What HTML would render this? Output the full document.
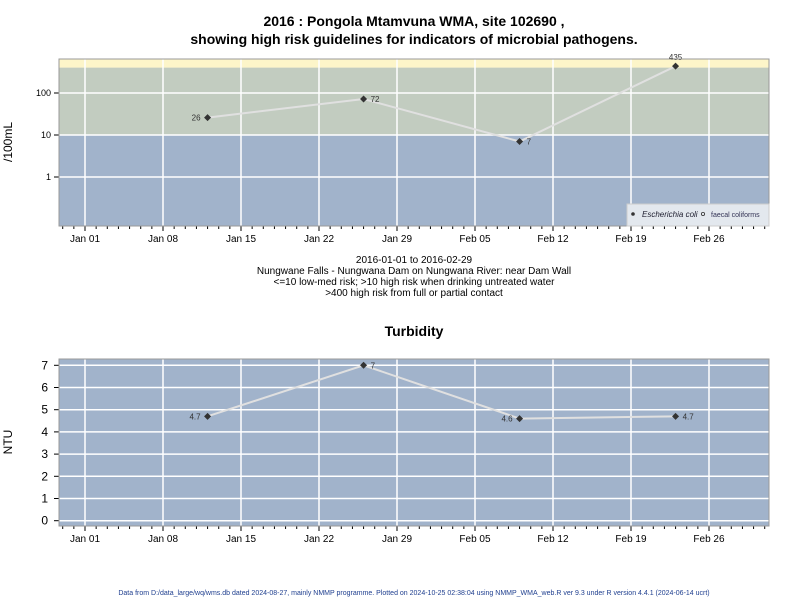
<!DOCTYPE html>
<html><head><meta charset="utf-8"><style>
body{margin:0;background:#fff;font-family:"Liberation Sans",sans-serif}
svg text{font-family:"Liberation Sans",sans-serif}
</style></head><body>
<svg id="c" width="800" height="600" xmlns="http://www.w3.org/2000/svg">
<text x="414" y="26" font-size="14" font-weight="bold" text-anchor="middle">2016 : Pongola Mtamvuna WMA, site 102690 ,</text>
<text x="414" y="44" font-size="14" font-weight="bold" text-anchor="middle">showing high risk guidelines for indicators of microbial pathogens.</text>
<text x="414" y="263" font-size="10" text-anchor="middle">2016-01-01 to 2016-02-29</text>
<text x="414" y="274" font-size="10" text-anchor="middle">Nungwane Falls - Nungwana Dam on Nungwana River: near Dam Wall</text>
<text x="414" y="285" font-size="10" text-anchor="middle">&lt;=10 low-med risk; &gt;10 high risk when drinking untreated water</text>
<text x="414" y="296" font-size="10" text-anchor="middle">&gt;400 high risk from full or partial contact</text>
<text x="414" y="336" font-size="14" font-weight="bold" text-anchor="middle">Turbidity</text>
<text x="12" y="142" font-size="12" text-anchor="middle" transform="rotate(-90 12 142)">/100mL</text>
<text x="12" y="442" font-size="12" text-anchor="middle" transform="rotate(-90 12 442)">NTU</text>
<text x="414" y="595" font-size="7" fill="#1f3f8f" text-anchor="middle">Data from D:/data_large/wq/wms.db dated 2024-08-27, mainly NMMP programme. Plotted on 2024-10-25 02:38:04 using NMMP_WMA_web.R ver 9.3 under R version 4.4.1 (2024-06-14 ucrt)</text>
</svg>
<script>
const dates=[11,25,39,53]; // days since Jan 01
const ecoli=[26,72,7,435];
const ecoliLabels=["26","72","7","435"];
const turb=[4.7,7,4.6,4.7];
const turbLabels=["4.7","7","4.6","4.7"];
const xTickDays=[0,7,14,21,28,35,42,49,56];
const xTickLabels=["Jan 01","Jan 08","Jan 15","Jan 22","Jan 29","Feb 05","Feb 12","Feb 19","Feb 26"];
const logTicks=[1,10,100];
const ntuTicks=[0,1,2,3,4,5,6,7];
const NS="http://www.w3.org/2000/svg";
const svg=document.getElementById('c');
const L=59,R=769;
const xs=d=>85+d*(78/7);
const y1=v=>135-42*(Math.log10(v)-1);
const y2=v=>520.7-v*(155.4/7);
function el(t,a,p){const e=document.createElementNS(NS,t);for(const k in a)e.setAttribute(k,a[k]);(p||svg).appendChild(e);return e;}
function xAxis(top,bot,name){
  for(let d=-2;d<=61;d++){if(xs(d)<L||xs(d)>R)continue;
    const major=xTickDays.indexOf(d);
    const t=el('line',{x1:xs(d),x2:xs(d),y1:bot,y2:bot+(major>=0?5:3),stroke:'#000','stroke-width':1});
    
    }
  xTickDays.forEach((d,i)=>{const g=el('line',{x1:xs(d),x2:xs(d),y1:top,y2:bot,stroke:'#fff','stroke-width':1.5});
    
    
    const t=el('text',{x:xs(d),y:bot+16,'font-size':10,'text-anchor':'middle'});t.textContent=xTickLabels[i];
    
    });
}
// panel 1
let r=el('rect',{x:L,y:59,width:R-L,height:167,fill:'#a1b3cb'});


r=el('rect',{x:L,y:y1(400),width:R-L,height:y1(10)-y1(400),fill:'#c2ccc0'});


r=el('rect',{x:L,y:59,width:R-L,height:y1(400)-59,fill:'#fdf5c9'});


logTicks.forEach(v=>{const g=el('line',{x1:L,x2:R,y1:y1(v),y2:y1(v),stroke:'#fff','stroke-width':1.5});
  
  
  const tk=el('line',{x1:L-5,x2:L,y1:y1(v),y2:y1(v),stroke:'#000'});
  
  
  const t=el('text',{x:L-8,y:y1(v)+3,'font-size':9,'text-anchor':'end'});t.textContent=v;
  
  });
xAxis(59,226,'x-axis-micro');
let pl=el('polyline',{points:dates.map((d,i)=>xs(d)+','+y1(ecoli[i])).join(' '),fill:'none',stroke:'#e0e0e0','stroke-width':2});


dates.forEach((d,i)=>{const p=el('path',{d:`M${xs(d)} ${y1(ecoli[i])-3.5}l3.5 3.5l-3.5 3.5l-3.5 -3.5z`,fill:'#333'});
  
  
  const left=i==0,top=i==3;
  const t=el('text',{x:top?xs(d):xs(d)+(left?-7:7),y:top?y1(ecoli[i])-6:y1(ecoli[i])+3,'font-size':8,fill:'#333','text-anchor':top?'middle':(left?'end':'start')});
  t.textContent=ecoliLabels[i];
  
  });
r=el('rect',{x:L,y:59,width:R-L,height:167,fill:'none',stroke:'#999'});


// legend
const lg=el('g',{});


el('rect',{x:627,y:204,width:142,height:22,fill:'#e3e8ee',stroke:'#ccc'},lg);
el('circle',{cx:633,cy:214,r:1.8,fill:'#333'},lg);
let t=el('text',{x:642,y:217,'font-size':8,'font-style':'italic',fill:'#223'},lg);t.textContent='Escherichia coli';
el('circle',{cx:703,cy:214,r:1.6,fill:'none',stroke:'#333','stroke-width':0.8},lg);
t=el('text',{x:711,y:217,'font-size':7,fill:'#335'},lg);t.textContent='faecal coliforms';
// panel 2
r=el('rect',{x:L,y:359,width:R-L,height:167,fill:'#a1b3cb'});


ntuTicks.forEach(v=>{const g=el('line',{x1:L,x2:R,y1:y2(v),y2:y2(v),stroke:'#fff','stroke-width':1.5});
  
  
  const tk=el('line',{x1:L-5,x2:L,y1:y2(v),y2:y2(v),stroke:'#000'});
  
  
  const t=el('text',{x:L-11,y:y2(v)+4,'font-size':12,'text-anchor':'end'});t.textContent=v;
  
  });
xAxis(359,526,'x-axis-turbidity');
pl=el('polyline',{points:dates.map((d,i)=>xs(d)+','+y2(turb[i])).join(' '),fill:'none',stroke:'#e0e0e0','stroke-width':2});


dates.forEach((d,i)=>{const p=el('path',{d:`M${xs(d)} ${y2(turb[i])-3.5}l3.5 3.5l-3.5 3.5l-3.5 -3.5z`,fill:'#333'});
  
  
  const left=(i==0||i==2);
  const t=el('text',{x:xs(d)+(left?-7:7),y:y2(turb[i])+3,'font-size':8,fill:'#333','text-anchor':left?'end':'start'});
  t.textContent=turbLabels[i];
  
  });
r=el('rect',{x:L,y:359,width:R-L,height:167,fill:'none',stroke:'#999'});


</script>
</body></html>
